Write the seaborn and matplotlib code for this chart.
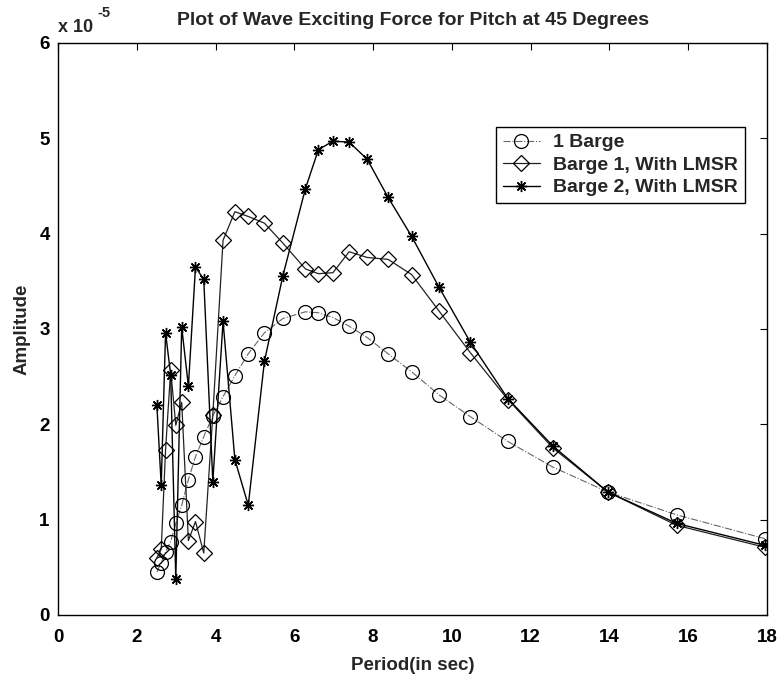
import matplotlib
matplotlib.use("Agg")
import matplotlib.pyplot as plt
from matplotlib.ticker import FuncFormatter, MultipleLocator
import seaborn as sns
import pandas as pd

# Wave periods (s)
period = [2.51, 2.62, 2.73, 2.86, 2.99, 3.14, 3.31, 3.49, 3.70, 3.93,
          4.19, 4.49, 4.83, 5.24, 5.71, 6.28, 6.61, 6.98, 7.39, 7.85,
          8.38, 8.98, 9.67, 10.47, 11.42, 12.57, 13.96, 15.71, 17.95]

# Pitch exciting-force amplitudes, in units of 1e-5
one_barge = [0.45, 0.55, 0.66, 0.77, 0.96, 1.15, 1.42, 1.66, 1.87, 2.09,
             2.29, 2.51, 2.74, 2.96, 3.11, 3.18, 3.17, 3.12, 3.03, 2.91,
             2.74, 2.55, 2.31, 2.08, 1.82, 1.55, 1.29, 1.05, 0.80]
barge1_lmsr = [0.60, 0.69, 1.73, 2.57, 1.99, 2.23, 0.78, 0.98, 0.65, 2.10,
               3.93, 4.23, 4.18, 4.11, 3.90, 3.63, 3.58, 3.59, 3.81, 3.75,
               3.73, 3.57, 3.19, 2.75, 2.26, 1.75, 1.29, 0.94, 0.71]
barge2_lmsr = [2.20, 1.36, 2.96, 2.52, 0.38, 3.02, 2.40, 3.65, 3.52, 1.40,
               3.08, 1.63, 1.15, 2.66, 3.56, 4.47, 4.88, 4.97, 4.96, 4.78,
               4.38, 3.97, 3.44, 2.86, 2.27, 1.77, 1.29, 0.96, 0.73]

series_names = ["1 Barge", "Barge 1, With LMSR", "Barge 2, With LMSR"]
SCALE = 1e-5

sns.set_theme(style="white")
plt.rcParams["font.family"] = ["Liberation Sans", "DejaVu Sans"]

fig = plt.figure(figsize=(7.82, 6.84), dpi=100)
ax = fig.add_axes([0.0742, 0.1009, 0.9066, 0.8363])

df = pd.DataFrame({
    "period": period * 3,
    "amp": [v * SCALE for v in one_barge + barge1_lmsr + barge2_lmsr],
    "series": [n for n in series_names for _ in period],
})

styles = {
    "1 Barge": dict(marker="o", markersize=10, linestyle="-.", color="#666666",
                    linewidth=0.8, mew=0.9),
    "Barge 1, With LMSR": dict(marker="D", markersize=8, linestyle="-", color="#222222",
                               linewidth=0.9, mew=0.9),
    "Barge 2, With LMSR": dict(marker=(8, 2, 0), markersize=8, linestyle="-", color="black",
                               linewidth=1.0, mew=1.0),
}

for name in series_names:
    sub = df[df["series"] == name]
    st = styles[name]
    sns.lineplot(data=sub, x="period", y="amp", ax=ax, estimator=None, sort=False,
                 label=name, marker=st["marker"], markersize=st["markersize"],
                 linestyle=st["linestyle"], color=st["color"], linewidth=st["linewidth"],
                 markerfacecolor="none", markeredgecolor="black",
                 markeredgewidth=st["mew"])

ax.set_xlim(0, 18)
ax.set_ylim(0, 6 * SCALE)
ax.xaxis.set_major_locator(MultipleLocator(2))
ax.yaxis.set_major_locator(MultipleLocator(1 * SCALE))
ax.yaxis.set_major_formatter(FuncFormatter(lambda v, p: f"{v / SCALE:g}"))
ax.tick_params(direction="in", top=True, right=True, length=5, width=0.8,
               labelsize=13.5, colors="black")
ax.tick_params(axis="x", pad=10)
ax.tick_params(axis="y", pad=6)
for lbl in ax.get_xticklabels() + ax.get_yticklabels():
    lbl.set_fontweight("bold")
for sp in ax.spines.values():
    sp.set_color("black")
    sp.set_linewidth(1.0)

# Exponent marker above the y axis
ax.text(0.0, 1.012, "x 10", transform=ax.transAxes, fontsize=13,
        fontweight="bold", ha="left", va="bottom")
ax.text(0.055, 1.04, "-5", transform=ax.transAxes, fontsize=10.5,
        fontweight="bold", ha="left", va="bottom")

ax.set_title("Plot of Wave Exciting Force for Pitch at 45 Degrees", fontsize=14,
             fontweight="bold", pad=13)
ax.set_xlabel("Period(in sec)", fontsize=13.5, fontweight="bold", labelpad=8)
ax.set_ylabel("Amplitude", fontsize=13.5, fontweight="bold", labelpad=6)

leg = ax.legend(loc="upper right", bbox_to_anchor=(0.969, 0.853), fontsize=14,
                frameon=True, fancybox=False, edgecolor="black", framealpha=1,
                borderpad=0.35, handlelength=1.9, handletextpad=0.7,
                labelspacing=0.25, borderaxespad=0)
leg.get_frame().set_linewidth(1.0)
for t in leg.get_texts():
    t.set_fontweight("bold")

fig.savefig("out.png", dpi=100, facecolor="white")
